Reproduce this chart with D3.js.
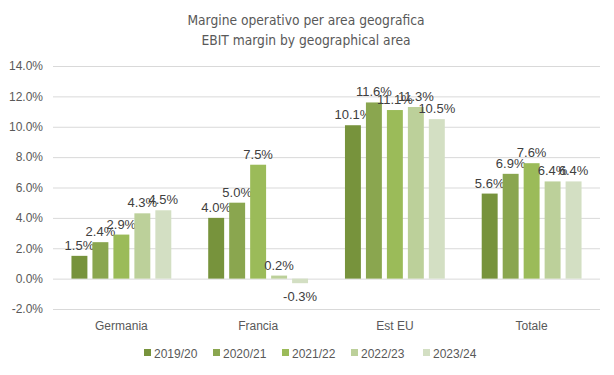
<!DOCTYPE html>
<html>
<head>
<meta charset="utf-8">
<script src="https://cdn.jsdelivr.net/npm/d3@7"></script>
<style>
  body { margin: 0; background: #fff; }
  svg text { font-family: "Liberation Sans", Arial, sans-serif; }
</style>
</head>
<body>
<svg id="chart" width="614" height="375"></svg>
<script>
// data
var areas = ["Germania", "Francia", "Est EU", "Totale"];
var years = ["2019/20", "2020/21", "2021/22", "2022/23", "2023/24"];
var v2019 = [1.5, 4.0, 10.1, 5.6];
var v2020 = [2.4, 5.0, 11.6, 6.9];
var v2021 = [2.9, 7.5, 11.1, 7.6];
var v2022 = [4.3, 0.2, 11.3, 6.4];
var v2023 = [4.5, -0.3, 10.5, 6.4];
var yTicks = [-2, 0, 2, 4, 6, 8, 10, 12, 14];
var colors = ["#77933c", "#8aa64f", "#9bbb59", "#bcd09a", "#d3dfc3"];

var series = [v2019, v2020, v2021, v2022, v2023];

var svg = d3.select("#chart"),
    plotL = 53, plotR = 600, plotT = 66, plotB = 309;

var x = d3.scaleBand().domain(areas).range([plotL, plotR]).paddingInner(0.27).paddingOuter(0.135);
var xs = d3.scaleBand().domain(years).range([0, x.bandwidth()]).paddingInner(0.24);
var y = d3.scaleLinear().domain([-2, 14]).range([plotB, plotT]);
var color = d3.scaleOrdinal().domain(years).range(colors);

// title, two lines
["Margine operativo per area geografica", "EBIT margin by geographical area"].forEach(function (t, i) {
    svg.append("text").attr("x", 306).attr("y", 25 + i * 20).attr("text-anchor", "middle")
        .style("font-family", "'DejaVu Sans Condensed', 'Liberation Sans Narrow', sans-serif")
        .style("font-size", "13.7px").style("fill", "#595959")
        .text(t);
});

// gridlines + y labels
var yAxis = svg.append("g").attr("transform", "translate(" + plotL + ",0)")
    .call(d3.axisLeft(y).tickValues(yTicks).tickSize(-(plotR - plotL))
          .tickFormat(d => d.toFixed(1) + "%").tickPadding(10));
yAxis.select(".domain").remove();
yAxis.selectAll("line").attr("stroke", "#d9d9d9");
yAxis.selectAll("text").style("font-size", "12px").style("fill", "#595959")
    .style("font-family", "'Liberation Sans', Arial, sans-serif");

// x labels
var xAxis = svg.append("g").attr("transform", "translate(0," + plotB + ")")
    .call(d3.axisBottom(x).tickSize(0).tickPadding(12));
xAxis.select(".domain").remove();
xAxis.selectAll("text").style("font-size", "12px").style("fill", "#595959")
    .style("font-family", "'Liberation Sans', Arial, sans-serif");

// bars + data labels
years.forEach(function (yr, i) {
    var g = svg.append("g");
    var rows = areas.map((a, j) => ({area: a, v: series[i][j]}));
    g.selectAll("rect").data(rows).join("rect")
        .attr("x", d => x(d.area) + xs(yr))
        .attr("width", xs.bandwidth())
        .attr("y", d => y(Math.max(0, d.v)))
        .attr("height", d => Math.abs(y(d.v) - y(0)))
        .attr("fill", color(yr));
    g.selectAll("text").data(rows).join("text")
        .attr("x", d => x(d.area) + xs(yr) + xs.bandwidth() / 2)
        .attr("y", d => d.v >= 0 ? y(d.v) - 6 : y(d.v) + 18)
        .attr("text-anchor", "middle")
        .style("font-size", "13px").style("fill", "#404040")
        .text(d => d.v.toFixed(1) + "%");
});

// legend
var lx = [144, 213, 282, 351, 423];
var leg = svg.append("g").selectAll("g").data(years).join("g")
    .attr("transform", (d, i) => "translate(" + lx[i] + ",353)");
leg.append("rect").attr("x", 0).attr("y", -4).attr("width", 7).attr("height", 7)
    .attr("fill", d => color(d));
leg.append("text").attr("x", 10).attr("y", 4.5)
    .style("font-size", "12px").style("fill", "#595959").text(d => d);
</script>
</body>
</html>
